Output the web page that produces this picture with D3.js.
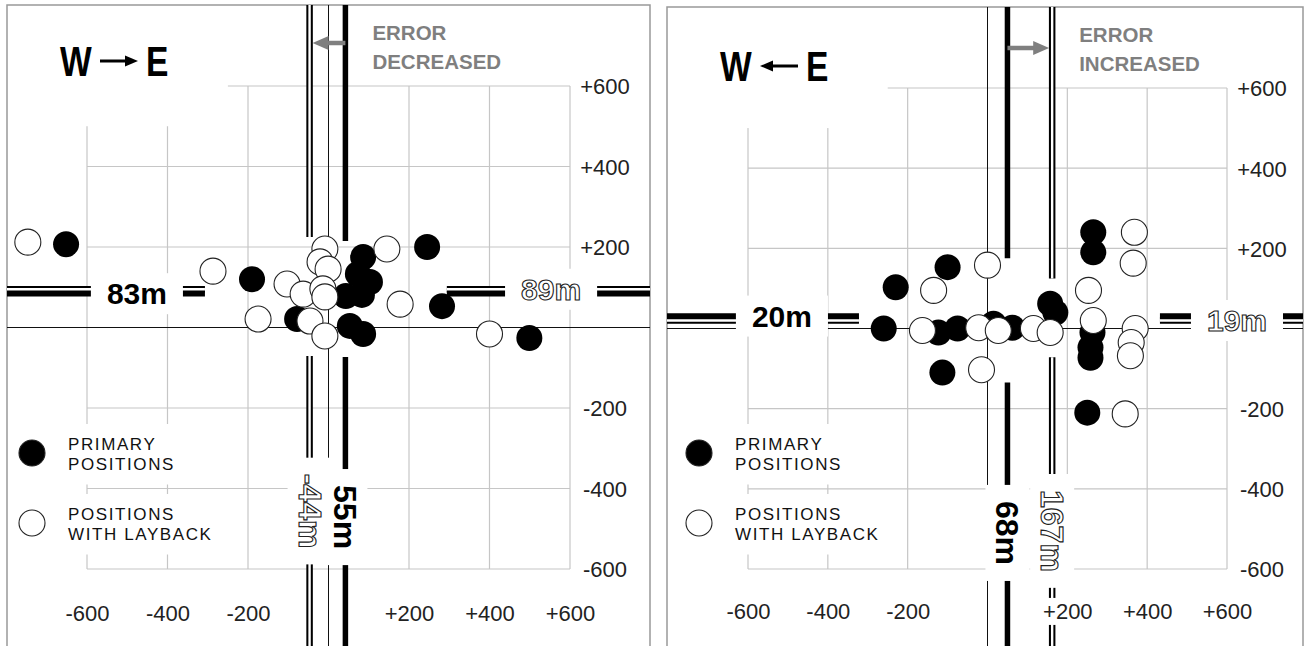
<!DOCTYPE html>
<html lang="en">
<head>
<meta charset="utf-8">
<script src="https://d3js.org/d3.v7.min.js"></script>
<title>Primary positions and positions with layback</title>
<style>
  body { margin: 0; background: #fff; }
  svg { display: block; }
</style>
</head>
<body>
<div id="container"></div>
<script>
// grid ticks in metres, both axes
const ticks = [-600, -400, -200, 200, 400, 600];
const tickLabels = ["-600", "-400", "-200", "+200", "+400", "+600"];
const legendLabels = [["PRIMARY", "POSITIONS"], ["POSITIONS", "WITH LAYBACK"]];

// ---- W -> E run ----
const weNote = ["ERROR", "DECREASED"];
const wePrimary = [[-652, 207], [-190, 120], [-78, 21], [43, 78], [83, 81], [86, 175], [73, 133],
                   [103, 113], [53, 4], [86, -16], [245, 200], [282, 53], [499, -26]];
const weLayback = [[-747, 212], [-287, 140], [-175, 21], [-103, 108], [-63, 83], [-46, 16], [-9, -21],
                   [-9, 195], [-21, 163], [-1, 145], [-14, 96], [-9, 76], [145, 195], [178, 58], [400, -16]];
// mean lines as drawn: [primary, layback]
const weMeanEast = [42, -47];
const weMeanNorth = [84, 95];
const weEastLabels = ["55m", "-44m"];
const weNorthLabels = ["83m", "89m"];
const weEastLabelAt = [-471, -456];   // north position of the labels on the vertical lines
const weNorthLabelAt = [-476, 553];   // east position of the labels on the horizontal lines
const weEastGaps = [[215, -73], [225, -71]];
const weNorthGap = [-307, 294];

// ---- W <- E run ----
const ewNote = ["ERROR", "INCREASED"];
const ewPrimary = [[-260, 0], [-230, 103], [-100, 153], [-123, -10], [-75, 0], [15, 12], [62, 2],
                   [157, 62], [170, 40], [-113, -110], [265, 240], [265, 190], [263, -10], [258, -47],
                   [258, -73], [250, -210]];
const ewLayback = [[-163, -5], [-135, 95], [0, 158], [-22, 2], [27, -5], [115, 0], [157, -10],
                   [-15, -103], [368, 240], [365, 163], [253, 95], [265, 20], [370, 0], [360, -35],
                   [358, -68], [345, -213]];
const ewMeanEast = [50, 162];
const ewMeanNorth = [31, 20];
const ewEastLabels = ["68m", "167m"];
const ewNorthLabels = ["20m", "19m"];
const ewEastLabelAt = [-510, -505];
const ewNorthLabelAt = [-515, 625];
const ewEastGaps = [[175, -135], [125, -72]];
const ewNorthGap = [-322, 432];

const W = 1305, H = 646;
const R = 13;
const FONT = "'Liberation Sans', Arial, sans-serif";
const GRID = "#c6c6c6";
const NOTE = "#7f7f7f";

const svg = d3.select("#container").append("svg").attr("width", W).attr("height", H);

function drawPanel(o) {
    const g = svg.append("g");
    const x = d3.scaleLinear().domain([-600, 600]).range(o.xRange);
    const y = d3.scaleLinear().domain([600, -600]).range(o.yRange);
    const fx0 = o.frame[0], fy0 = o.frame[1], fx1 = o.frame[2], fy1 = H + 10;

    g.append("rect").attr("x", fx0).attr("y", fy0).attr("width", fx1 - fx0).attr("height", fy1 - fy0)
     .attr("fill", "#fff").attr("stroke", "#999").attr("stroke-width", 1.5);

    // grid
    const grid = g.append("g").attr("stroke", GRID).attr("stroke-width", 1.2);
    grid.selectAll(".gv").data(ticks).join("line").attr("class", "gv")
        .attr("x1", d => x(d)).attr("x2", d => x(d)).attr("y1", y(600)).attr("y2", y(-600));
    grid.selectAll(".gh").data(ticks).join("line").attr("class", "gh")
        .attr("y1", d => y(d)).attr("y2", d => y(d)).attr("x1", x(-600)).attr("x2", x(600));

    // white area behind the title
    g.append("rect").attr("x", fx0 + 1).attr("y", fy0 + 1)
     .attr("width", x(-250) - fx0 - 1).attr("height", y(500) - fy0 - 1).attr("fill", "#fff");

    // legend
    const lg = g.append("g");
    legendLabels.forEach((lines, i) => {
        const cy = o.legendY[i];
        const box = lg.append("rect").attr("fill", "#fff");
        lg.append("circle").attr("cx", o.legendX).attr("cy", cy).attr("r", R)
          .attr("fill", i === 0 ? "#000" : "#fff").attr("stroke", "#222").attr("stroke-width", 1.1);
        const t = lg.append("text").attr("font-family", FONT).attr("font-size", 17)
          .attr("letter-spacing", 1.6).attr("fill", "#111");
        t.selectAll("tspan").data(lines).join("tspan")
          .attr("x", o.legendX + 36).attr("y", (d, j) => cy - 3 + j * 19.5).text(d => d);
        const b = t.node().getBBox();
        box.attr("x", fx0 + 1).attr("y", b.y - 11).attr("width", b.x + b.width + 14 - fx0 - 1)
           .attr("height", b.height + 22);
    });

    // zero lines
    g.append("line").attr("x1", fx0).attr("x2", fx1).attr("y1", y(0)).attr("y2", y(0))
     .attr("stroke", "#111").attr("stroke-width", 1);
    g.append("line").attr("x1", x(0)).attr("x2", x(0)).attr("y1", fy0).attr("y2", fy1)
     .attr("stroke", "#111").attr("stroke-width", 1);

    // mean lines
    const ml = g.append("g").attr("fill", "none");
    function strokeLine(d, kind) {
        if (kind === 0) {
            ml.append("path").attr("d", d).attr("stroke", "#000").attr("stroke-width", 5.5);
        } else {
            ml.append("path").attr("d", d).attr("stroke", "#000").attr("stroke-width", 6.5);
            ml.append("path").attr("d", d).attr("stroke", "#fff").attr("stroke-width", 2.4);
        }
    }
    o.meanNorth.forEach((v, k) => {
        const yy = y(v);
        strokeLine(`M${fx0},${yy}H${x(o.northGap[0])}M${x(o.northGap[1])},${yy}H${fx1}`, k);
    });
    o.meanEast.forEach((v, k) => {
        const xx = x(v);
        strokeLine(`M${xx},${fy0}V${y(o.eastGaps[k][0])}M${xx},${y(o.eastGaps[k][1])}V${fy1}`, k);
    });

    // labels on the mean lines
    function meanLabel(cx, cy, angle, text, kind, size) {
        const lgp = g.append("g").attr("transform", `translate(${cx},${cy}) rotate(${angle})`);
        const box = lgp.append("rect").attr("fill", "#fff");
        const t = lgp.append("text").attr("text-anchor", "middle").attr("dominant-baseline", "central")
          .attr("font-family", FONT).attr("font-weight", "bold").attr("font-size", size).text(text);
        if (kind === 1) t.attr("fill", "#fff").attr("stroke", "#222").attr("stroke-width", 1.1);
        else t.attr("fill", "#000");
        const b = t.node().getBBox();
        box.attr("x", b.x - 16).attr("y", b.y - 4).attr("width", b.width + 32).attr("height", b.height + 8);
    }
    o.northLabels.forEach((s, k) => meanLabel(x(o.northLabelAt[k]), y(o.meanNorth[k]), 0, s, k, 30));
    o.eastLabels.forEach((s, k) => meanLabel(x(o.meanEast[k]), y(o.eastLabelAt[k]), 90, s, k, 32));

    // tick labels
    const fmt = d => tickLabels[ticks.indexOf(d)];
    const ax = g.append("g").attr("transform", `translate(0,${y(-600) + o.xLabelOff})`)
      .call(d3.axisBottom(x).tickValues(ticks).tickFormat(fmt).tickSize(0).tickPadding(0));
    const ay = g.append("g").attr("transform", `translate(${x(600) + 35},0)`)
      .call(d3.axisRight(y).tickValues(ticks).tickFormat(fmt).tickSize(0).tickPadding(0));
    [ax, ay].forEach(a => {
        a.select(".domain").remove();
        a.selectAll("text").attr("font-family", FONT).attr("font-size", 22).attr("fill", "#222")
          .attr("text-anchor", "middle").attr("x", 0).attr("y", 0).attr("dy", "0.36em");
        a.selectAll(".tick").each(function () {
            const tk = d3.select(this);
            const b = tk.select("text").node().getBBox();
            tk.insert("rect", "text").attr("x", b.x - 3).attr("y", b.y - 1)
              .attr("width", b.width + 6).attr("height", b.height + 2).attr("fill", "#fff");
        });
    });

    // positions
    g.append("g").selectAll("circle").data(o.primary).join("circle")
     .attr("cx", d => x(d[0])).attr("cy", d => y(d[1])).attr("r", R).attr("fill", "#000");
    g.append("g").selectAll("circle").data(o.layback).join("circle")
     .attr("cx", d => x(d[0])).attr("cy", d => y(d[1])).attr("r", R)
     .attr("fill", "#fff").attr("stroke", "#222").attr("stroke-width", 1.1);

    // run direction title (letters squeezed horizontally)
    const tx = fx0 + 53, ty = fy0 + o.titleDy;
    [["W", tx], ["E", tx + 86]].forEach(([s, px]) => {
        g.append("text").attr("transform", `translate(${px},${ty}) scale(0.8,1)`)
         .attr("font-family", FONT).attr("font-weight", "bold").attr("font-size", 42).text(s);
    });
    const ay0 = ty - 15, a0 = tx + 40, a1 = tx + 78;
    const tip = o.dir > 0 ? a1 : a0, tail = o.dir > 0 ? a0 : a1;
    g.append("line").attr("x1", tail).attr("x2", tip - o.dir * 8).attr("y1", ay0).attr("y2", ay0)
     .attr("stroke", "#000").attr("stroke-width", 3);
    g.append("path").attr("d", `M${tip},${ay0}L${tip - o.dir * 13},${ay0 - 5.5}L${tip - o.dir * 13},${ay0 + 5.5}Z`)
     .attr("fill", "#000");

    // error note with arrow from primary to layback line
    const nx = x(d3.max(o.meanEast)) + 27;
    g.append("text").attr("font-family", FONT).attr("font-weight", "bold").attr("font-size", 20.5)
     .attr("fill", NOTE).selectAll("tspan").data(o.note).join("tspan")
     .attr("x", nx).attr("y", (d, i) => fy0 + 35 + i * 28.5).text(d => d);
    const p0 = x(o.meanEast[0]), p1 = x(o.meanEast[1]);
    const dd = p1 > p0 ? 1 : -1;
    const ny = fy0 + o.arrowDy;
    const e1 = p1 - dd * 3;
    g.append("line").attr("x1", p0).attr("x2", e1 - dd * 12).attr("y1", ny).attr("y2", ny)
     .attr("stroke", NOTE).attr("stroke-width", 4.5);
    g.append("path").attr("d", `M${e1},${ny}L${e1 - dd * 16},${ny - 7}L${e1 - dd * 16},${ny + 7}Z`)
     .attr("fill", NOTE);
}

drawPanel({
    frame: [7, 5, 650], xRange: [87, 570], yRange: [86, 569],
    primary: wePrimary, layback: weLayback,
    meanEast: weMeanEast, meanNorth: weMeanNorth,
    eastLabels: weEastLabels, northLabels: weNorthLabels,
    eastLabelAt: weEastLabelAt, northLabelAt: weNorthLabelAt,
    eastGaps: weEastGaps, northGap: weNorthGap,
    note: weNote, dir: 1, titleDy: 71, arrowDy: 38,
    legendX: 32, legendY: [453, 523], xLabelOff: 44
});
drawPanel({
    frame: [667, 7, 1303], xRange: [748, 1227], yRange: [88, 569],
    primary: ewPrimary, layback: ewLayback,
    meanEast: ewMeanEast, meanNorth: ewMeanNorth,
    eastLabels: ewEastLabels, northLabels: ewNorthLabels,
    eastLabelAt: ewEastLabelAt, northLabelAt: ewNorthLabelAt,
    eastGaps: ewEastGaps, northGap: ewNorthGap,
    note: ewNote, dir: -1, titleDy: 74, arrowDy: 41,
    legendX: 699, legendY: [453, 523], xLabelOff: 42
});
</script>
</body>
</html>
